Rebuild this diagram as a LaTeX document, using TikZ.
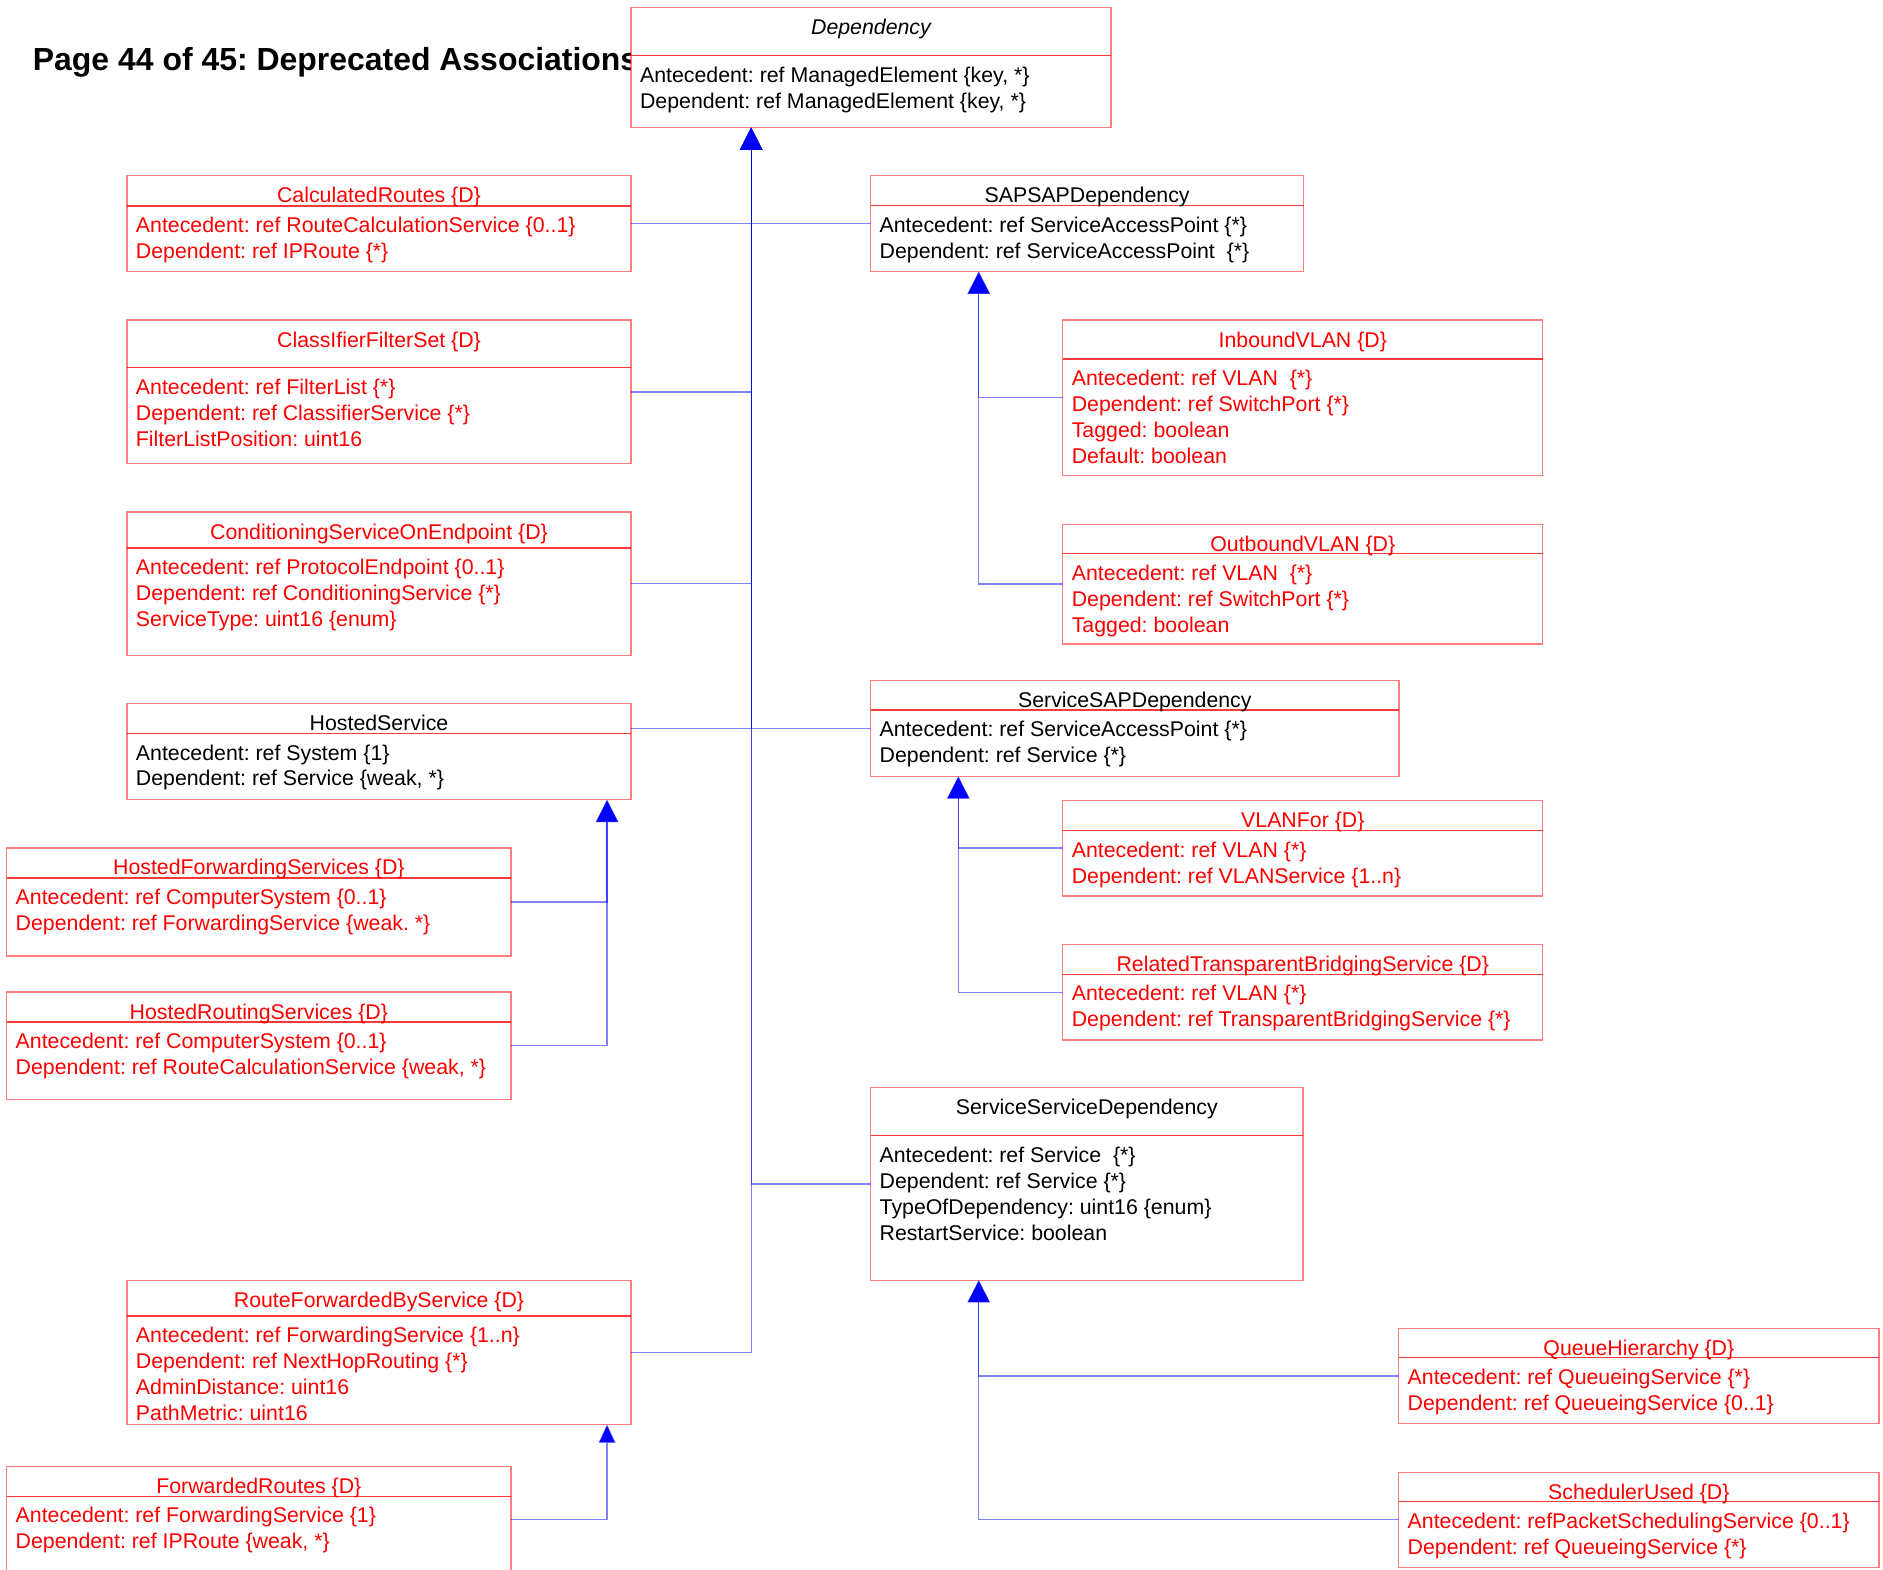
\documentclass[tikz,border=0pt]{standalone}
\usepackage{fontspec}
\setmainfont{Liberation Sans}
\usetikzlibrary{arrows.meta}
\tikzset{
  ubox/.style={draw=red, draw opacity=0.5, fill=white, line width=1.1pt, inner sep=0pt, outer sep=0pt, anchor=north west},
  udiv/.style={draw=red, draw opacity=0.78, line width=1.1pt},
  utitle/.style={anchor=base, inner sep=0pt},
  uattr/.style={anchor=base west, inner sep=0pt},
  conn/.style={draw=blue, draw opacity=0.5, line width=1.1pt, -{Triangle[length=18.5pt,width=18.5pt]}},
  conns/.style={draw=blue, draw opacity=0.5, line width=1.1pt, -{Triangle[length=15.5pt,width=14pt]}},
}
\newcommand{\umlbox}[9]{%
  \node[ubox, minimum width={#4-#2}, minimum height={#5-#3}] (#1) at (#2,#3) {};
  \draw[udiv] ([yshift=-#6]#1.north west) -- ([yshift=-#6]#1.north east);
  \node[utitle, text=#7] (#1-t) at ([yshift=-22.6]#1.north) {#8};
  \foreach \txt [count=\i] in {#9} {
    \node[uattr, text=#7] (#1-a\i) at ([xshift=7.3, yshift={-(#6+22.2+(\i-1)*21.6)}]#1.north west) {\txt};
  }
}
\begin{document}
\frenchspacing
\begin{tikzpicture}[x=1pt, y=-1pt, font=\fontsize{17.75}{21.6}\selectfont\frenchspacing]
\useasboundingbox (0,0) rectangle (1568,1307);
\node[anchor=base west, inner sep=0pt, font=\fontsize{26.6}{30}\selectfont\bfseries\frenchspacing] (pgtitle) at (27.2,58.9) {Page 44 of 45: Deprecated Associations};

\umlbox{dep}{525.5}{6.5}{925}{106.3}{39.8}{black}{\itshape Dependency}{{Antecedent: ref ManagedElement \{key, *\}},{Dependent: ref ManagedElement \{key, *\}}}
\umlbox{cr}{105.7}{146.3}{525.5}{226.2}{25.2}{red}{CalculatedRoutes \{D\}}{{Antecedent: ref RouteCalculationService \{0..1\}},{Dependent: ref IPRoute \{*\}}}
\umlbox{sap}{725}{146.3}{1085.5}{226.2}{25}{black}{SAPSAPDependency}{{Antecedent: ref ServiceAccessPoint \{*\}},{Dependent: ref ServiceAccessPoint\ \ \{*\}}}
\umlbox{cfs}{105.7}{266.5}{525.5}{386.1}{39.7}{red}{ClassIfierFilterSet \{D\}}{{Antecedent: ref FilterList \{*\}},{Dependent: ref ClassifierService \{*\}},{FilterListPosition: uint16}}
\umlbox{ivlan}{885}{266.5}{1284.7}{396}{32.5}{red}{InboundVLAN \{D\}}{{Antecedent: ref VLAN\ \ \{*\}},{Dependent: ref SwitchPort \{*\}},{Tagged: boolean},{Default: boolean}}
\umlbox{cse}{105.7}{426.3}{525.5}{546}{30}{red}{ConditioningServiceOnEndpoint \{D\}}{{Antecedent: ref ProtocolEndpoint \{0..1\}},{Dependent: ref ConditioningService \{*\}},{ServiceType: uint16 \{enum\}}}
\umlbox{ovlan}{885}{436.5}{1284.7}{536.3}{24.5}{red}{OutboundVLAN \{D\}}{{Antecedent: ref VLAN\ \ \{*\}},{Dependent: ref SwitchPort \{*\}},{Tagged: boolean}}
\umlbox{hs}{105.7}{586}{525.5}{666}{24.7}{black}{HostedService}{{Antecedent: ref System \{1\}},{Dependent: ref Service \{weak, *\}}}
\umlbox{ssap}{725}{566.5}{1165}{646.5}{24.7}{black}{ServiceSAPDependency}{{Antecedent: ref ServiceAccessPoint \{*\}},{Dependent: ref Service \{*\}}}
\umlbox{hfs}{5.6}{706}{425.5}{796}{25}{red}{HostedForwardingServices \{D\}}{{Antecedent: ref ComputerSystem \{0..1\}},{Dependent: ref ForwardingService \{weak. *\}}}
\umlbox{vfor}{885}{666.5}{1284.7}{746}{25}{red}{VLANFor \{D\}}{{Antecedent: ref VLAN \{*\}},{Dependent: ref VLANService \{1..n\}}}
\umlbox{hrs}{5.6}{826}{425.5}{915.7}{25}{red}{HostedRoutingServices \{D\}}{{Antecedent: ref ComputerSystem \{0..1\}},{Dependent: ref RouteCalculationService \{weak, *\}}}
\umlbox{rtbs}{885}{786.5}{1284.7}{866}{24.8}{red}{RelatedTransparentBridgingService \{D\}}{{Antecedent: ref VLAN \{*\}},{Dependent: ref TransparentBridgingService \{*\}}}
\umlbox{ssd}{725}{905.7}{1085}{1066}{40}{black}{ServiceServiceDependency}{{Antecedent: ref Service\ \ \{*\}},{Dependent: ref Service \{*\}},{TypeOfDependency: uint16 \{enum\}},{RestartService: boolean}}
\umlbox{rfbs}{105.7}{1066}{525.5}{1186}{29.8}{red}{RouteForwardedByService \{D\}}{{Antecedent: ref ForwardingService \{1..n\}},{Dependent: ref NextHopRouting \{*\}},{AdminDistance: uint16},{PathMetric: uint16}}
\umlbox{qh}{1164.7}{1106}{1564.7}{1185.5}{24.5}{red}{QueueHierarchy \{D\}}{{Antecedent: ref QueueingService \{*\}},{Dependent: ref QueueingService \{0..1\}}}
\umlbox{fr}{5.6}{1221}{425.5}{1310}{25}{red}{ForwardedRoutes \{D\}}{{Antecedent: ref ForwardingService \{1\}},{Dependent: ref IPRoute \{weak, *\}}}
\umlbox{su}{1164.7}{1226}{1564.7}{1305.1}{24.5}{red}{SchedulerUsed \{D\}}{{Antecedent: refPacketSchedulingService \{0..1\}},{Dependent: ref QueueingService \{*\}}}

\coordinate (depA) at ([xshift=100]dep.south west);
\coordinate (sapA) at ([xshift=90]sap.south west);
\coordinate (ssapA) at ([xshift=73]ssap.south west);
\coordinate (hsA) at ([xshift=-20]hs.south east);
\coordinate (ssdA) at ([xshift=90]ssd.south west);
\coordinate (rfbsA) at ([xshift=-20]rfbs.south east);

\draw[conn] (cr.east) -| (depA);
\draw[conn] (sap.west) -| (depA);
\draw[conn] (cfs.east) -| (depA);
\draw[conn] (cse.east) -| (depA);
\draw[conn] (hs.east |- ssap.west) -| (depA);
\draw[conn] (ssap.west) -| (depA);
\draw[conn] (ssd.west) -| (depA);
\draw[conn] (rfbs.east) -| (depA);

\draw[conn] (ivlan.west) -| (sapA);
\draw[conn] (ovlan.west) -| (sapA);

\draw[conn] (vfor.west) -| (ssapA);
\draw[conn] (rtbs.west) -| (ssapA);

\draw[conn] (hfs.east) -| (hsA);
\draw[conn] (hrs.east) -| (hsA);

\draw[conn] (qh.west) -| (ssdA);
\draw[conn] (su.west) -| (ssdA);

\draw[conns] (fr.east) -| (rfbsA);
\end{tikzpicture}
\end{document}
